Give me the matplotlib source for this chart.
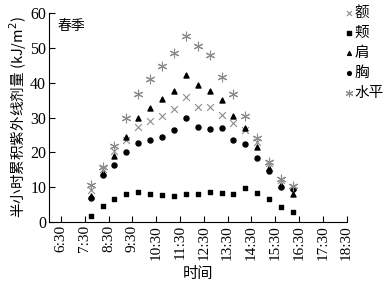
import numpy as np
import matplotlib
matplotlib.use("Agg")
import matplotlib.pyplot as plt

# --- dados (leitura do gráfico) ---
times = [7.75, 8.25, 8.75, 9.25, 9.75, 10.25, 10.75, 11.25, 11.75,
         12.25, 12.75, 13.25, 13.75, 14.25, 14.75, 15.25, 15.75, 16.25]
forehead = [9.2, 15.2, 20.5, 23.6, 27.4, 29.1, 30.5, 32.4, 36.0,
            33.0, 33.0, 30.7, 28.4, 26.5, 23.1, 16.8, 12.0, 10.1]
cheek = [1.8, 4.7, 6.5, 8.0, 8.6, 8.1, 7.7, 7.6, 8.0,
         8.0, 8.5, 8.3, 8.0, 9.9, 8.3, 6.5, 4.3, 2.9]
shoulder = [7.5, 14.2, 19.0, 24.3, 29.8, 32.7, 35.3, 37.7, 42.2,
            39.2, 37.7, 35.1, 30.3, 26.9, 21.6, 15.6, 10.6, 8.0]
chest = [6.8, 13.5, 16.4, 20.0, 22.6, 23.6, 24.5, 26.4, 29.8,
         27.4, 26.6, 26.9, 23.4, 22.4, 18.3, 14.5, 10.0, 9.4]
horizontal = [10.6, 15.8, 21.8, 29.8, 36.7, 41.1, 44.8, 48.5, 53.5,
              50.6, 48.0, 41.5, 36.7, 30.5, 24.1, 17.3, 12.4, 10.3]

tick_pos = [6.5 + i for i in range(13)]
tick_labels = [f"{int(t)}:30" for t in tick_pos]

cjk = ['Noto Sans CJK SC', 'DejaVu Sans']
serif = ['Liberation Serif', 'DejaVu Serif']

fig = plt.figure(figsize=(3.9, 2.88), dpi=100)
ax = fig.add_axes([49 / 390, 1 - 222 / 288, 297.5 / 390, 209 / 288])

gray = "#8c8c8c"
ax.scatter(times, forehead, marker="x", s=24, color=gray, linewidths=0.8, label="额")
ax.scatter(times, cheek, marker="s", s=11, color="black", label="颊")
ax.scatter(times, shoulder, marker="^", s=13, color="black", label="肩")
ax.scatter(times, chest, marker="o", s=13, color="black", label="胸")
ax.scatter(times, horizontal, marker=(6, 2, 0), s=40, color=gray, linewidths=0.8, label="水平")

ax.set_xlim(6.0, 18.5)
ax.set_ylim(0, 60)
ax.set_xticks(tick_pos)
ax.set_xticklabels(tick_labels, rotation=90, family=serif, fontsize=11)
ax.set_yticks(range(0, 61, 10))
ax.set_yticklabels([str(v) for v in range(0, 61, 10)], family=serif, fontsize=11.5)
ax.tick_params(direction="in", length=4, width=0.8, pad=2)

ax.spines["top"].set_visible(False)
ax.spines["right"].set_visible(False)

ax.set_xlabel("时间", family=cjk, fontsize=11, labelpad=4)
ax.set_ylabel("半小时累积紫外线剂量 (kJ/m$^2$)", family=cjk, fontsize=10.5, labelpad=1)
ax.text(0.03, 0.97, "春季", transform=ax.transAxes, family=cjk, fontsize=10,
        va="top", ha="left")

leg = ax.legend(loc="upper left", bbox_to_anchor=(1.0, 1.035), frameon=False,
                prop={'family': cjk, 'size': 10.5}, handlelength=0.4,
                handletextpad=0.15, labelspacing=0.42, borderpad=0.0,
                borderaxespad=0.0, markerscale=0.75)

fig.savefig("out.png", dpi=100)
